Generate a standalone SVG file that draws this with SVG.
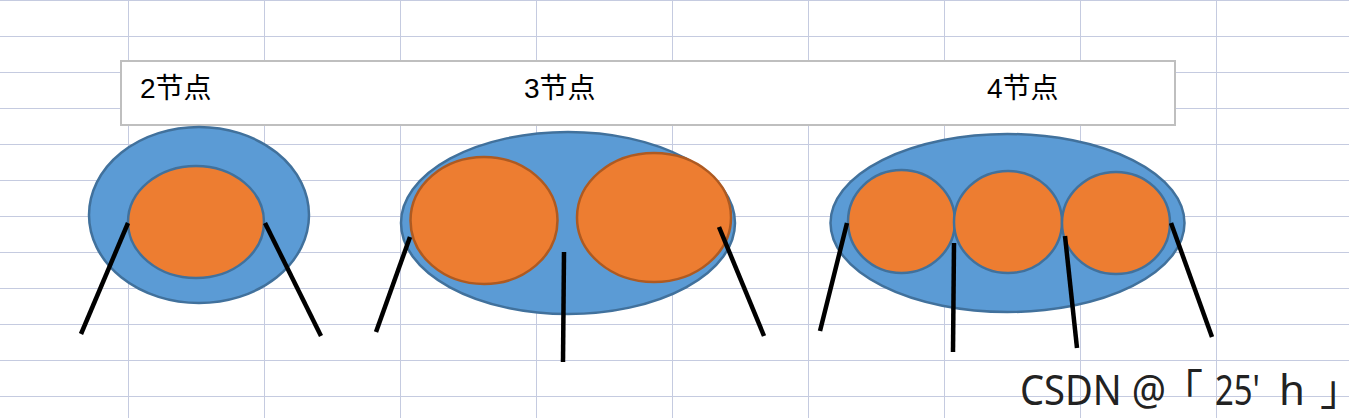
<svg xmlns="http://www.w3.org/2000/svg" width="1349" height="418" viewBox="0 0 1349 418">
<style>
.grid line{stroke:#c5cbe0;stroke-width:1}
.outer{fill:#5b9bd5;stroke:#41719c;stroke-width:2.5}
.inner{fill:#ed7d31;stroke:#41719c;stroke-width:2.5}
.inner2{fill:#ed7d31;stroke:#ae5a21;stroke-width:2.5}
.leg{stroke:#000;stroke-width:4.5;fill:none}
.lbl{font-family:"Liberation Sans","Noto Sans CJK SC",sans-serif;font-size:28px;fill:#000}
.wm{font-family:"Noto Sans","Noto Sans CJK SC",sans-serif;font-size:42px;fill:#222}
.br{font-family:"Noto Sans CJK SC",sans-serif;font-feature-settings:"halt" 1}
</style>
<rect width="1349" height="418" fill="#fff"/>
<g class="grid">
<line x1="0" y1="0.5" x2="1349" y2="0.5"/>
<line x1="0" y1="36.5" x2="1349" y2="36.5"/>
<line x1="0" y1="72.5" x2="1349" y2="72.5"/>
<line x1="0" y1="108.5" x2="1349" y2="108.5"/>
<line x1="0" y1="144.5" x2="1349" y2="144.5"/>
<line x1="0" y1="180.5" x2="1349" y2="180.5"/>
<line x1="0" y1="216.5" x2="1349" y2="216.5"/>
<line x1="0" y1="252.5" x2="1349" y2="252.5"/>
<line x1="0" y1="288.5" x2="1349" y2="288.5"/>
<line x1="0" y1="324.5" x2="1349" y2="324.5"/>
<line x1="0" y1="360.5" x2="1349" y2="360.5"/>
<line x1="0" y1="396.5" x2="1349" y2="396.5"/>
<line x1="128.5" y1="0" x2="128.5" y2="418"/>
<line x1="264.5" y1="0" x2="264.5" y2="418"/>
<line x1="400.5" y1="0" x2="400.5" y2="418"/>
<line x1="536.5" y1="0" x2="536.5" y2="418"/>
<line x1="672.5" y1="0" x2="672.5" y2="418"/>
<line x1="808.5" y1="0" x2="808.5" y2="418"/>
<line x1="944.5" y1="0" x2="944.5" y2="418"/>
<line x1="1080.5" y1="0" x2="1080.5" y2="418"/>
<line x1="1216.5" y1="0" x2="1216.5" y2="418"/>
</g>
<g id="title-box">
<rect x="121" y="61" width="1054" height="64" fill="#fff" stroke="#bfbfbf" stroke-width="2"/>
<text class="lbl" x="140" y="98">2节点</text>
<text class="lbl" x="524" y="98">3节点</text>
<text class="lbl" x="987" y="98">4节点</text>
</g>
<g id="node2">
<ellipse class="outer" cx="199" cy="215" rx="110" ry="88"/>
<ellipse class="inner" cx="196" cy="222" rx="68" ry="56"/>
</g>
<g id="node3">
<ellipse class="outer" cx="568" cy="223" rx="167" ry="91"/>
<ellipse class="inner2" cx="484" cy="220.5" rx="73.5" ry="63.5"/>
<ellipse class="inner2" cx="654" cy="217.5" rx="77" ry="64.5"/>
</g>
<g id="node4">
<ellipse class="outer" cx="1007.5" cy="223" rx="177" ry="89"/>
<ellipse class="inner" cx="901.5" cy="221.5" rx="53.5" ry="51.5"/>
<ellipse class="inner" cx="1008" cy="222" rx="54" ry="51"/>
<ellipse class="inner" cx="1116" cy="223" rx="54" ry="51"/>
</g>
<g id="connectors">
<line class="leg" x1="128" y1="223" x2="81" y2="334"/>
<line class="leg" x1="265" y1="223" x2="321" y2="336"/>
<line class="leg" x1="410" y1="237" x2="376" y2="332"/>
<line class="leg" x1="564" y1="252" x2="563" y2="362"/>
<line class="leg" x1="719" y1="227" x2="764" y2="336"/>
<line class="leg" x1="847" y1="223" x2="820" y2="331"/>
<line class="leg" x1="954" y1="243" x2="953" y2="352"/>
<line class="leg" x1="1065" y1="236" x2="1077" y2="348"/>
<line class="leg" x1="1171" y1="223" x2="1212" y2="337"/>
</g>
<text class="wm" y="405"><tspan x="1020" textLength="146" lengthAdjust="spacingAndGlyphs">CSDN @</tspan><tspan class="br" x="1182">「</tspan><tspan x="1215" textLength="45" lengthAdjust="spacingAndGlyphs">25'</tspan><tspan x="1279">h</tspan><tspan class="br" x="1320">」</tspan></text>
</svg>
